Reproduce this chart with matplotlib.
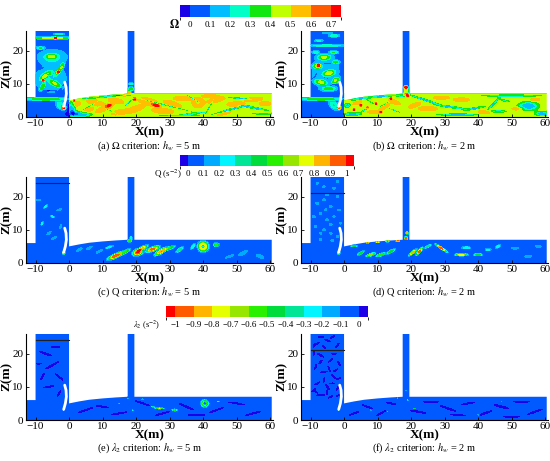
import numpy as np
import matplotlib
matplotlib.use("Agg")
import matplotlib.pyplot as plt
from matplotlib.patches import Polygon
from matplotlib.colors import ListedColormap, BoundaryNorm
from matplotlib.cm import ScalarMappable

plt.rcParams['font.family'] = ['Liberation Serif', 'DejaVu Serif']
plt.rcParams['mathtext.fontset'] = 'stix'

# colour scales
OMEGA_LEVELS = [-0.05, 0, 0.1, 0.2, 0.3, 0.4, 0.5, 0.6, 0.7, 0.75]
OMEGA_TICKS = [0, 0.1, 0.2, 0.3, 0.4, 0.5, 0.6, 0.7]
OMEGA_COLORS = ['#1a00e6', '#005aff', '#00beff', '#00ffc8', '#10e610',
                '#bfff00', '#ffbe00', '#ff5a00', '#ff0000']

Q_LEVELS = [-0.05, 0, 0.1, 0.2, 0.3, 0.4, 0.5, 0.6, 0.7, 0.8, 0.9, 1.0, 1.05]
Q_TICKS = [0, 0.1, 0.2, 0.3, 0.4, 0.5, 0.6, 0.7, 0.8, 0.9, 1]
Q_COLORS = ['#1e00e6', '#005aff', '#00aaff', '#00f5ff', '#00e696', '#00dc3c',
            '#28f000', '#96e600', '#e6ff00', '#ffb400', '#ff5a00', '#ff0000']

L2_LEVELS = [-1.05, -1.0, -0.9, -0.8, -0.7, -0.6, -0.5, -0.4, -0.3, -0.2, -0.1, 0, 0.05]
L2_TICKS = [-1, -0.9, -0.8, -0.7, -0.6, -0.5, -0.4, -0.3, -0.2, -0.1, 0]
L2_COLORS = Q_COLORS[::-1]

# geometry (m)
SURF_X = [0, 3, 6, 10, 14, 17.5]
SURF_Z = [5.0, 5.6, 6.1, 6.5, 6.8, 7.0]
GATE_X = [-1.6, -1.1, -0.8, -0.9, -1.3]
GATE_Z = [3.2, 5.0, 7.0, 9.0, 10.5]

# vortex structures: x, z, half-length, half-width, angle, peak value
OMEGA_5M = [
    # upstream channel and tank
    (-7, 5.4, 6, 0.45, 0, 0.38), (-2.5, 3.5, 1.5, 1.0, -40, 0.3), (-1.5, 2.8, 0.5, 0.5, 0, 0.6),
    (-5, 23.8, 6, 0.3, 0, 0.45), (-4, 23.8, 0.3, 0.3, 0, 0.74), (-3, 25, 1.5, 0.25, 0, 0.3),
    (-5, 18, 4.2, 2.2, 0, 0.22), (-5.2, 18.2, 1.6, 0.6, 0, 0.28), (-8.5, 20.8, 1.2, 0.4, 0, 0.3),
    (-5.5, 11.5, 4.5, 4, 0, 0.2), (-7, 12.5, 2, 0.7, 35, 0.3), (-4, 10, 2, 0.6, -30, 0.28),
    (-8, 9, 1.2, 0.5, 60, 0.3), (-3, 14, 1.5, 0.5, 50, 0.3), (-7.7, 11, 0.4, 0.4, 0, 0.58),
    (-3.2, 13.5, 0.4, 0.4, 0, 0.5), (-5.5, 12, 1.5, 0.3, -40, -0.1), (-2.5, 8.5, 1.5, 0.3, 60, -0.1),
    (-8.5, 14.5, 1.2, 0.3, 20, -0.1), (-6, 8, 2, 0.3, 0, -0.1), (-2, 15.5, 1, 0.5, 70, 0.3),
    # pillar
    (18.5, 8.5, 0.8, 0.5, 0, 0.35), (18.5, 10, 0.6, 0.3, 0, 0.3), (18, 7.5, 0.4, 0.4, 0, 0.6),
    # channel, low values
    (3, 0.8, 3.5, 1.0, 0, 0.05), (0.8, 2.5, 1.2, 2, 0, 0.1), (9, 5.9, 6, 0.35, 5, 0.15),
    (15, 6.5, 3, 0.3, 0, 0.1), (6, 3.2, 3, 0.25, 30, 0.1), (12, 2, 3, 0.25, -25, 0.1),
    (18, 4.5, 2, 0.3, 40, 0.1), (28, 3.8, 8, 0.3, -14, 0.1), (38, 1.2, 4, 0.3, 5, 0.1),
    (42, 3.2, 2.5, 0.3, 60, 0.1), (37, 5.5, 2.5, 0.3, -30, 0.1), (48, 2.2, 5, 0.45, 15, 0.08),
    (55, 2.8, 4, 0.45, -10, 0.08), (58, 1.0, 3, 0.4, 0, 0.1), (51, 5.6, 3.5, 0.35, -5, 0.12),
    (33, 0.5, 6, 0.3, 0, 0.15),
    # channel, high values
    (2, 3.8, 1.5, 0.8, 20, 0.57), (5, 1.8, 2.5, 0.8, 20, 0.57), (8, 4.3, 3, 0.9, -15, 0.57),
    (10.5, 2.6, 3, 0.8, 25, 0.57), (14, 4.8, 2.5, 0.8, -10, 0.57), (15.5, 1.5, 3, 0.8, 10, 0.57),
    (20, 2.5, 3, 0.9, 20, 0.57), (24, 4.5, 4, 1.1, -15, 0.57), (28, 1.8, 3.5, 0.8, -5, 0.57),
    (31, 3.8, 3, 0.9, -20, 0.57), (34, 5.6, 3, 0.7, 0, 0.57), (38.5, 4.3, 1.8, 1.5, 0, 0.6),
    (38.5, 4.3, 0.8, 0.7, 0, 0.3), (44, 5.2, 3, 0.8, 15, 0.57), (46, 1.3, 2.5, 0.7, 10, 0.57),
    (50, 3.8, 3, 0.8, 0, 0.57), (55, 5.3, 3, 0.7, 5, 0.57), (58.5, 4.0, 1.8, 0.7, 0, 0.57),
    (42, 6.3, 2.5, 0.5, 0, 0.57), (16.5, 6.5, 0.4, 0.4, 0, 0.74), (19.5, 5.3, 0.4, 0.3, 0, 0.74),
    (1.5, 5, 0.3, 0.3, 0, 0.74), (26, 3.5, 1.2, 0.4, -15, 0.66), (12, 3.5, 0.8, 0.35, 20, 0.66),
]
OMEGA_2M = [
    # upstream channel and tank
    (-7, 5.4, 6, 0.45, 0, 0.38), (-3, 3.5, 1.5, 1.0, -40, 0.3), (-1.5, 2.8, 0.5, 0.5, 0, 0.62),
    (-5, 21.5, 6, 0.3, 0, 0.25), (-3, 24.5, 1.5, 0.4, 0, 0.3), (-7.5, 23, 1.2, 0.3, 0, 0.22),
    (-5, 25.3, 1.5, 0.25, 0, 0.2), (-5.5, 13.5, 4.5, 6, 0, 0.15), (-6, 18, 2, 0.8, 0, 0.35),
    (-8, 15.3, 1.3, 0.7, 0, 0.35), (-7.6, 15.5, 0.4, 0.4, 0, 0.62), (-4.5, 13.2, 1.8, 0.8, 15, 0.35),
    (-2.5, 11, 1.2, 0.7, 40, 0.35), (-7, 10.5, 1.8, 0.7, -10, 0.35), (-4.5, 8.5, 2, 0.6, 0, 0.3),
    (-2.5, 16.5, 1, 0.5, 0, 0.28), (-8.5, 19.5, 1, 0.4, 0, 0.25), (-3, 19.5, 1.2, 0.4, 0, 0.28),
    (-5, 16, 2.5, 0.3, 0, -0.05), (-6, 12, 2, 0.3, -20, -0.05), (-3.5, 9.7, 1.5, 0.3, 20, -0.05),
    (-8.5, 12.5, 1, 0.3, 60, -0.05),
    # pillar
    (18.5, 8, 0.8, 1.2, 0, 0.5), (18.5, 9, 0.4, 0.4, 0, 0.75), (19, 6.5, 0.5, 0.5, 0, 0.75),
    # channel near the gate
    (9, 6.0, 8, 0.4, 5, 0.15), (4, 5.2, 2, 0.4, 10, 0.3), (12, 6.3, 2, 0.3, 0, 0.3),
    (17, 6.2, 1.5, 0.35, 0, 0.25), (7, 2.8, 0.35, 0.3, 0, 0.75), (9.5, 4, 0.35, 0.3, 0, 0.75),
    (5, 3.5, 0.35, 0.3, 0, 0.75), (11, 1.5, 0.3, 0.3, 0, 0.75), (3, 2.2, 0.3, 0.3, 0, 0.75),
    (14, 5.5, 0.3, 0.3, 0, 0.75), (6, 2, 1.5, 0.35, 30, 0.15), (2.5, 0.9, 2.5, 0.6, 0, 0.1),
    (8, 4.5, 1.5, 0.3, -30, 0.12), (12, 3.8, 1.5, 0.3, 30, 0.12), (15, 2, 1.8, 0.3, -20, 0.12),
    (1, 3.5, 1, 0.8, 0, 0.15), (12, 3, 2, 0.6, 30, 0.57), (15, 4.5, 2, 0.6, -20, 0.57),
    (4, 4.3, 1.5, 0.5, 20, 0.57), (9, 1.5, 2, 0.5, 0, 0.57),
    # channel downstream
    (24, 5.2, 5, 0.45, -18, 0.1), (32, 3, 4.5, 0.45, -8, 0.1), (39, 2.6, 3, 0.45, 10, 0.1),
    (44.5, 3.8, 2.5, 0.45, 45, 0.1), (47.5, 5, 2, 0.5, -10, 0.15), (50, 6.4, 8, 0.45, 0, 0.1),
    (55, 3.3, 3, 1.4, 0, 0.1), (59, 1, 2, 0.8, 0, 0.1), (34, 0.7, 6, 0.45, 0, 0.15),
    (46, 1.7, 2.5, 0.5, 0, 0.15), (25, 2.5, 3, 0.7, 0, 0.57), (35, 5.2, 2.5, 0.6, 0, 0.57),
    (47, 5, 1.5, 0.5, 0, 0.6), (42, 1.5, 2, 0.6, 0, 0.57), (29, 5.8, 2.5, 0.5, 0, 0.57),
    (21, 3.5, 2, 0.6, 20, 0.57), (52, 2.5, 2, 0.5, 0, 0.57), (57, 5.2, 1.5, 0.5, 0, 0.57),
]
Q_5M = [
    (-7, 17, 0.8, 0.2, 45, 0.25), (-5, 14, 0.7, 0.2, -30, 0.25), (-8, 12, 0.6, 0.2, 60, 0.25),
    (-3, 16, 0.7, 0.2, 20, 0.2), (-6, 9, 0.8, 0.25, 40, 0.2), (-2.5, 11, 0.6, 0.2, 70, 0.2),
    (-4.5, 7.5, 1, 0.2, 30, 0.2), (-9, 19, 0.6, 0.2, 0, 0.2), (-1.6, 3, 0.3, 0.3, 0, 0.95),
    (3, 4, 1, 0.25, 30, 0.2), (6, 4.5, 1, 0.25, 30, 0.2), (9, 3.5, 1, 0.25, 30, 0.2),
    (12, 4.8, 1.2, 0.25, 20, 0.25), (14, 2.2, 2.2, 0.5, 25, 1.0), (17, 3.5, 1.2, 0.35, 30, 0.5),
    (20.5, 3.2, 1.3, 0.8, 20, 1.0), (22, 4.5, 1.4, 0.4, 30, 0.8), (25, 4.2, 1.8, 0.5, 20, 0.95),
    (27.5, 3.5, 1.8, 0.5, 30, 0.9), (30, 4.5, 1.4, 0.35, 20, 0.5), (33, 4, 1.2, 0.35, 40, 0.35),
    (37, 5, 1.0, 0.3, 50, 0.3), (40, 5, 1.3, 1.3, 0, 1.0), (40, 5, 0.55, 0.55, 0, -0.9),
    (44, 5.5, 0.7, 0.45, 0, 0.6), (52, 3, 1.5, 0.4, 30, 0.2), (57, 2, 1.2, 0.4, -20, 0.2),
    (48, 2, 1.5, 0.3, 20, 0.15), (18, 6.7, 0.5, 0.3, 0, 0.6), (18.5, 7.5, 0.3, 0.5, 0, 0.3),
]
Q_2M = [
    (-8, 18, 0.4, 0.3, 0, 0.2), (-6, 19, 0.4, 0.3, 0, 0.2), (-4, 17, 0.4, 0.3, 0, 0.2),
    (-2, 20, 0.4, 0.3, 0, 0.15), (-7, 15, 0.4, 0.3, 0, 0.2), (-5, 13, 0.4, 0.3, 0, 0.2),
    (-3, 14, 0.4, 0.3, 0, 0.15), (-8.5, 11, 0.4, 0.3, 0, 0.2), (-6, 10, 0.4, 0.3, 0, 0.2),
    (-4, 9, 0.4, 0.3, 0, 0.2), (-2, 8, 0.4, 0.3, 0, 0.15), (-7, 7, 0.4, 0.3, 0, 0.2),
    (-1.5, 16, 0.4, 0.3, 0, 0.15), (-3, 22.5, 0.4, 0.3, 0, 0.15), (-6, 23, 0.4, 0.3, 0, 0.15),
    (-8, 24, 0.4, 0.3, 0, 0.15), (-2, 24.5, 0.4, 0.3, 0, 0.15), (-5, 20.5, 0.4, 0.3, 0, 0.2),
    (-9, 14, 0.4, 0.3, 0, 0.2), (-4, 11.5, 0.4, 0.3, 0, 0.2), (-1, 12, 0.4, 0.3, 0, 0.15),
    (-7, 9, 0.4, 0.3, 0, 0.2), (-3.5, 6.8, 0.4, 0.3, 0, 0.2), (-5.5, 16, 0.4, 0.3, 0, 0.2),
    (-1.6, 3, 0.3, 0.3, 0, 0.95), (7, 6.2, 0.4, 0.2, 0, 0.95), (10, 6.4, 0.4, 0.2, 0, 0.95),
    (13, 6.6, 0.4, 0.2, 0, 0.95), (16, 6.7, 0.4, 0.2, 0, 0.95), (18.5, 7.5, 0.4, 0.3, 0, 1.0),
    (18.8, 9, 0.3, 0.3, 0, 0.9), (5, 3, 1, 0.25, 30, 0.5), (8, 2.5, 1.2, 0.3, 20, 0.7),
    (11, 2.5, 1.2, 0.3, 20, 0.6), (14, 3.5, 1.2, 0.3, 30, 0.5), (20.5, 3.2, 1.2, 0.3, 40, 0.9),
    (22.5, 3.5, 1.2, 0.3, 50, 0.95), (25, 5, 1, 0.25, 30, 0.4), (29, 4.5, 1.8, 0.2, -35, 0.95),
    (35, 2.5, 1.5, 0.3, 0, 0.8), (36.5, 4.6, 1.2, 0.3, 0, 0.3), (40, 2.5, 1, 0.3, 0, 0.5),
    (43, 4, 0.8, 0.3, 0, 0.25), (46, 5, 0.8, 0.3, 30, 0.3), (51, 4.5, 1, 0.3, 0, 0.2),
    (55, 2, 1, 0.3, 0, 0.2), (58, 5, 0.8, 0.3, 0, 0.2), (3, 5.2, 0.8, 0.2, 0, 0.5),
]
L2_5M = [
    (-7, 20, 2.5, 0.25, -20, 0.03), (-5, 16.5, 3, 0.25, 30, 0.03), (-3, 13, 2, 0.2, -40, 0.03),
    (-8, 13, 1.5, 0.2, 60, 0.03), (-6, 10, 2, 0.25, 10, 0.03), (-3, 8, 1.5, 0.2, 60, 0.03),
    (-9, 17, 1, 0.2, 0, 0.03), (-4, 22, 1.5, 0.2, 0, 0.03), (-1.6, 3, 0.3, 0.3, 0, -0.9),
    (5, 3, 3, 0.2, 20, 0.03), (10, 4, 2.5, 0.2, -10, 0.03), (15, 2, 3, 0.2, 10, 0.03),
    (22, 5, 3, 0.2, -20, 0.03), (28, 2, 3, 0.2, 15, 0.03), (35, 4, 3, 0.25, -25, 0.03),
    (44, 3, 3, 0.2, 20, 0.03), (50, 5, 3, 0.2, -10, 0.03), (55, 2, 3, 0.2, 15, 0.03),
    (38, 1.5, 3, 0.2, 0, 0.03), (40.5, 5, 1.1, 1.1, 0, -1.0), (40.5, 5, 0.45, 0.45, 0, 0.9),
    (27, 3.5, 1.4, 0.35, 0, -0.85), (31.5, 3, 0.9, 0.45, 0, -0.7), (25, 4, 0.8, 0.3, 0, -0.5),
    (17.5, 6.5, 0.3, 0.3, 0, -0.9), (19, 3, 0.4, 0.3, 0, -0.6), (15, 5, 0.4, 0.3, 0, -0.5),
    (44.5, 5.5, 0.5, 0.3, 0, -0.5), (22, 6.3, 0.6, 0.25, 0, -0.6),
]
L2_2M = [
    (-8, 23, 1, 0.2, 30, 0.03), (-5, 24, 1.2, 0.2, -20, 0.03), (-2, 22.5, 1, 0.2, 50, 0.03),
    (-7, 19.5, 1.5, 0.2, -30, 0.03), (-4, 18, 1.2, 0.2, 40, 0.03), (-1.5, 17, 1, 0.2, -60, 0.03),
    (-8.5, 16, 1, 0.2, 70, 0.03), (-6, 14.5, 1.5, 0.2, 10, 0.03), (-3, 13, 1.2, 0.2, -40, 0.03),
    (-8, 11, 1.2, 0.2, 30, 0.03), (-5, 10, 1.2, 0.2, -50, 0.03), (-2, 9.5, 1, 0.2, 60, 0.03),
    (-7, 7.5, 1.5, 0.2, 0, 0.03), (-4, 7, 1, 0.2, 30, 0.03), (-9, 20, 0.8, 0.2, 80, 0.03),
    (-3, 20, 1, 0.2, 0, 0.03), (-6, 12, 1, 0.2, 80, 0.03), (-1.5, 12.5, 0.8, 0.2, 20, 0.03),
    (-9, 9, 1, 0.2, 40, 0.03), (-7, 25, 1, 0.2, 0, 0.03), (-3.5, 25, 1, 0.2, 30, 0.03),
    (-6, 22, 1, 0.2, -40, 0.03), (-9, 22.5, 0.8, 0.2, 70, 0.03), (-2.5, 15, 1, 0.2, 30, 0.03),
    (-7, 17.5, 1, 0.2, 50, 0.03), (-4.5, 15.5, 1, 0.2, -70, 0.03), (-5, 8.5, 1, 0.2, 80, 0.03),
    (-1.5, 7.5, 1, 0.2, 20, 0.03), (-8.5, 8.5, 1, 0.2, -30, 0.03), (-3.5, 11, 1.0, 0.2, 0, 0.03),
    (-1.6, 3, 0.3, 0.3, 0, -0.9),
    (3, 2, 2, 0.2, 20, 0.03), (7, 4, 2, 0.2, -20, 0.03), (11, 2, 2, 0.2, 30, 0.03),
    (14, 5, 2, 0.2, -10, 0.03), (22, 2.5, 3, 0.25, -10, 0.03), (26, 5.5, 3, 0.2, 0, 0.03),
    (31, 3.5, 3, 0.25, -20, 0.03), (37, 5, 2.5, 0.2, 10, 0.03), (42, 2, 3, 0.25, 20, 0.03),
    (47, 4, 3, 0.3, -15, 0.03), (53, 5.5, 3, 0.2, 0, 0.03), (57, 2.5, 3, 0.25, 20, 0.03),
    (50, 1, 3, 0.2, 0, 0.03), (34, 1.5, 3, 0.2, -5, 0.03),
    (36, 3.3, 1.5, 0.2, 0, -0.6), (8, 3, 0.4, 0.3, 0, -0.5), (13, 2.5, 0.3, 0.3, 0, -0.6),
    (16, 6.6, 0.3, 0.3, 0, -0.9), (18.5, 9, 0.3, 0.3, 0, -0.9), (19, 6, 0.4, 0.3, 0, -0.8),
    (21, 3.5, 0.4, 0.3, 0, -0.6), (40, 1.5, 0.4, 0.3, 0, -0.5), (47, 5.5, 0.4, 0.3, 0, -0.3),
]

# blobs, tank background, channel background, water-surface line height, caption, scale
PANELS = [
    (OMEGA_5M, 0.05, 0.45, None, r'(a) $\Omega$ criterion: $h_w$ = 5 m', 'omega'),
    (OMEGA_2M, 0.05, 0.45, None, r'(b) $\Omega$ criterion: $h_w$ = 2 m', 'omega'),
    (Q_5M, 0.05, 0.05, 24, r'(c) Q criterion: $h_w$ = 5 m', 'q'),
    (Q_2M, 0.05, 0.05, 21, r'(d) Q criterion: $h_w$ = 2 m', 'q'),
    (L2_5M, -0.05, -0.05, 24, r'(e) $\lambda_2$ criterion: $h_w$ = 5 m', 'l2'),
    (L2_2M, -0.05, -0.05, 21, r'(f) $\lambda_2$ criterion: $h_w$ = 2 m', 'l2'),
]
SCALES = {'omega': (OMEGA_LEVELS, OMEGA_COLORS), 'q': (Q_LEVELS, Q_COLORS), 'l2': (L2_LEVELS, L2_COLORS)}

xs = np.arange(-13, 60.55, 0.1)
zs = np.arange(0, 26.05, 0.1)
X, Z = np.meshgrid(xs, zs)


def build_field(blobs, bg_tank, bg_chan):
    chan = (X >= 0) & (Z <= 7.05) & ~((X > 17.5) & (X < 19.5) & (Z > 7))
    F = np.where(chan, bg_chan, bg_tank).astype(float)
    for x0, z0, a, b, ang, v in blobs:
        bg = bg_chan if (x0 >= 0 and z0 < 7) else bg_tank
        t = np.radians(ang)
        u = (X - x0) * np.cos(t) + (Z - z0) * np.sin(t)
        w = -(X - x0) * np.sin(t) + (Z - z0) * np.cos(t)
        r2 = (u / a) ** 2 + (w / b) ** 2
        F += (v - bg) * np.exp(-r2 ** 1.5)
    return F


def domain_patch(ax):
    pts = [(-13, 0), (60.5, 0), (60.5, 7), (19.5, 7), (19.5, 26), (17.5, 26)]
    pts += list(zip(SURF_X[::-1], SURF_Z[::-1]))
    pts += [(0, 26), (-10, 26), (-10, 6), (-13, 6)]
    return Polygon(pts, closed=True, transform=ax.transData, facecolor='none', edgecolor='none')


fig = plt.figure(figsize=(5.5, 4.61), dpi=100)
W, H = 550.0, 461.0
col_left = [25.5, 300.5]
row_bottom = [117, 263, 420]
cap_y = [146, 292, 448]
ax_w = 74 * 3.35
ax_h = 26 * 3.32

for i, (blobs, bg_t, bg_c, line_z, caption, key) in enumerate(PANELS):
    r, c = divmod(i, 2)
    ax = fig.add_axes([col_left[c] / W, 1 - row_bottom[r] / H, ax_w / W, ax_h / H])
    levels, colors = SCALES[key]
    F = np.clip(build_field(blobs, bg_t, bg_c), levels[0] + 1e-4, levels[-1] - 1e-4)
    cs = ax.contourf(X, Z, F, levels=levels, colors=colors, antialiased=False)
    patch = domain_patch(ax)
    ax.add_patch(patch)
    cs.set_clip_path(patch)
    if line_z is not None:
        ax.plot([-10, 0], [line_z, line_z], color='#202020', lw=0.8)
    ax.plot(GATE_X, GATE_Z, color='white', lw=2.0, solid_capstyle='round')

    ax.set_xlim(-13, 61)
    ax.set_ylim(0, 26)
    ax.set_xticks([-10, 0, 10, 20, 30, 40, 50, 60])
    ax.set_yticks([0, 10, 20])
    ax.spines['top'].set_visible(False)
    ax.spines['right'].set_visible(False)
    ax.tick_params(labelsize=8, length=2, width=0.6, pad=1.5, direction='in')
    ax.set_xlabel('X(m)', fontsize=9.5, fontweight='bold', labelpad=-1)
    ax.set_ylabel('Z(m)', fontsize=9.5, fontweight='bold', labelpad=0)
    cx = (col_left[c] + ax_w / 2) / W
    fig.text(cx, 1 - cap_y[r] / H, caption, ha='center', va='center', fontsize=7.5)


def add_bar(rect, levels, colors, ticks, labels, title, title_x, title_y, title_size):
    cax = fig.add_axes([rect[0] / W, 1 - rect[3] / H, (rect[1] - rect[0]) / W, (rect[3] - rect[2]) / H])
    sm = ScalarMappable(norm=BoundaryNorm(levels, len(colors)), cmap=ListedColormap(colors))
    cb = fig.colorbar(sm, cax=cax, orientation='horizontal', ticks=ticks, spacing='proportional')
    cb.ax.set_xticklabels(labels)
    cb.ax.tick_params(labelsize=6.5, length=0, pad=3)
    cb.outline.set_visible(False)
    fig.text(title_x / W, 1 - title_y / H, title, ha='right', va='center', fontsize=title_size)


add_bar((180, 341, 5, 17), OMEGA_LEVELS, OMEGA_COLORS, OMEGA_TICKS,
        ['0', '0.1', '0.2', '0.3', '0.4', '0.5', '0.6', '0.7'], r'$\mathbf{\Omega}$', 180, 25, 8.5)
add_bar((180, 354, 155, 166), Q_LEVELS, Q_COLORS, Q_TICKS,
        ['0', '0.1', '0.2', '0.3', '0.4', '0.5', '0.6', '0.7', '0.8', '0.9', '1'],
        r'Q (s$^{-2}$)', 182, 174, 6.5)
add_bar((166, 368, 306, 317), L2_LEVELS, L2_COLORS, L2_TICKS,
        ['\u22121', '\u22120.9', '\u22120.8', '\u22120.7', '\u22120.6', '\u22120.5',
         '\u22120.4', '\u22120.3', '\u22120.2', '\u22120.1', '0'],
        r'$\lambda_2$ (s$^{-2}$)', 160, 325, 6)

fig.savefig('out.png', dpi=100)
